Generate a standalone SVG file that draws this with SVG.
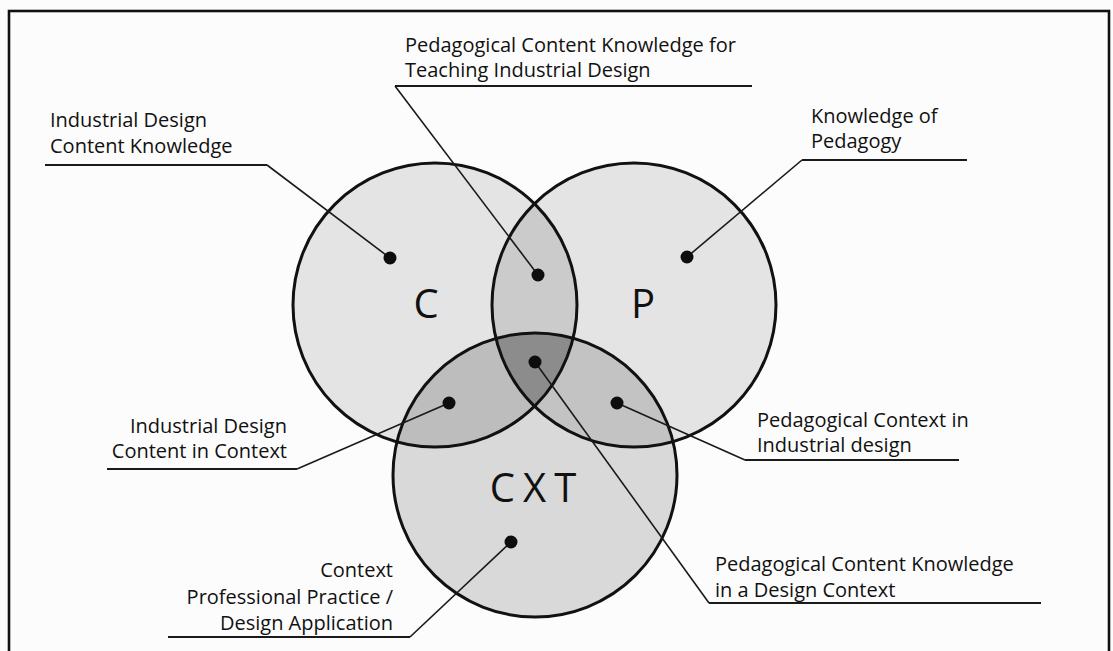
<svg xmlns="http://www.w3.org/2000/svg" width="1113" height="651" viewBox="0 0 1113 651">
<style>
.lbl{font-family:"Open Sans","Noto Sans","Liberation Sans",sans-serif;font-size:20px;fill:#111}
.big{font-family:"Open Sans","Noto Sans","Liberation Sans",sans-serif;font-size:40px;fill:#111}
.ring{fill:none;stroke:#111;stroke-width:3}
.lead{fill:none;stroke:#1a1a1a;stroke-width:1.6}
.ul{fill:none;stroke:#1a1a1a;stroke-width:2.2}
.dot{fill:#0d0d0d}
</style>
<defs>
<clipPath id="clipC"><circle cx="435" cy="305" r="142"/></clipPath>
<clipPath id="clipP"><circle cx="634" cy="305" r="142"/></clipPath>
</defs>
<rect x="0" y="0" width="1113" height="651" fill="#fcfcfc"/>
<rect x="9" y="11" width="1100" height="680" fill="none" stroke="#111" stroke-width="2.6"/>

<g id="fills">
<circle cx="435" cy="305" r="142" fill="#e4e4e4"/>
<circle cx="634" cy="305" r="142" fill="#e4e4e4"/>
<circle cx="535" cy="475" r="142" fill="#d9d9d9"/>
<circle cx="634" cy="305" r="142" fill="#cbcbcb" clip-path="url(#clipC)"/>
<circle cx="535" cy="475" r="142" fill="#bdbdbd" clip-path="url(#clipC)"/>
<circle cx="535" cy="475" r="142" fill="#c3c3c3" clip-path="url(#clipP)"/>
<g clip-path="url(#clipC)"><circle cx="535" cy="475" r="142" fill="#8c8c8c" clip-path="url(#clipP)"/></g>
</g>

<g id="node-C">
<circle class="ring" cx="435" cy="305" r="142"/>
<text class="big" x="426" y="318" text-anchor="middle">C</text>
</g>
<g id="node-P">
<circle class="ring" cx="634" cy="305" r="142"/>
<text class="big" x="643" y="318" text-anchor="middle">P</text>
</g>
<g id="node-CXT">
<circle class="ring" cx="535" cy="475" r="142"/>
<text class="big" x="537" y="502" text-anchor="middle" font-size="42" letter-spacing="8">CXT</text>
</g>

<g id="connectors">
<polyline class="lead" points="267,165 390,258"/>
<polyline class="lead" points="395,86 538,275"/>
<polyline class="lead" points="802,160 687,257"/>
<polyline class="lead" points="297,469 449,403"/>
<polyline class="lead" points="745,460 617,403"/>
<polyline class="lead" points="709,603 535,362"/>
<polyline class="lead" points="410,637 511,542"/>
<line class="ul" x1="45" y1="165" x2="267" y2="165"/>
<line class="ul" x1="395" y1="86" x2="752" y2="86"/>
<line class="ul" x1="802" y1="160" x2="967" y2="160"/>
<line class="ul" x1="107" y1="469" x2="297" y2="469"/>
<line class="ul" x1="745" y1="460" x2="959" y2="460"/>
<line class="ul" x1="709" y1="603" x2="1041" y2="603"/>
<line class="ul" x1="168" y1="637" x2="410" y2="637"/>
<circle class="dot" cx="390" cy="258" r="6.5"/>
<circle class="dot" cx="538" cy="275" r="6.5"/>
<circle class="dot" cx="687" cy="257" r="6.5"/>
<circle class="dot" cx="535" cy="362" r="6.5"/>
<circle class="dot" cx="449" cy="403" r="6.5"/>
<circle class="dot" cx="617" cy="403" r="6.5"/>
<circle class="dot" cx="511" cy="542" r="6.5"/>
</g>

<g id="label-content-knowledge">
<text class="lbl" x="50" y="127">Industrial Design</text>
<text class="lbl" x="50" y="153">Content Knowledge</text>
</g>
<g id="label-pck-teaching">
<text class="lbl" x="405" y="52">Pedagogical Content Knowledge for</text>
<text class="lbl" x="405" y="77">Teaching Industrial Design</text>
</g>
<g id="label-pedagogy">
<text class="lbl" x="811" y="123">Knowledge of</text>
<text class="lbl" x="811" y="148">Pedagogy</text>
</g>
<g id="label-content-context">
<text class="lbl" x="287" y="433" text-anchor="end">Industrial Design</text>
<text class="lbl" x="287" y="458" text-anchor="end">Content in Context</text>
</g>
<g id="label-ped-context">
<text class="lbl" x="757" y="427">Pedagogical Context in</text>
<text class="lbl" x="757" y="452">Industrial design</text>
</g>
<g id="label-pck-design">
<text class="lbl" x="715" y="571">Pedagogical Content Knowledge</text>
<text class="lbl" x="715" y="597">in a Design Context</text>
</g>
<g id="label-context">
<text class="lbl" x="393" y="577" text-anchor="end">Context</text>
<text class="lbl" x="393" y="604" text-anchor="end">Professional Practice /</text>
<text class="lbl" x="393" y="630" text-anchor="end">Design Application</text>
</g>
</svg>
